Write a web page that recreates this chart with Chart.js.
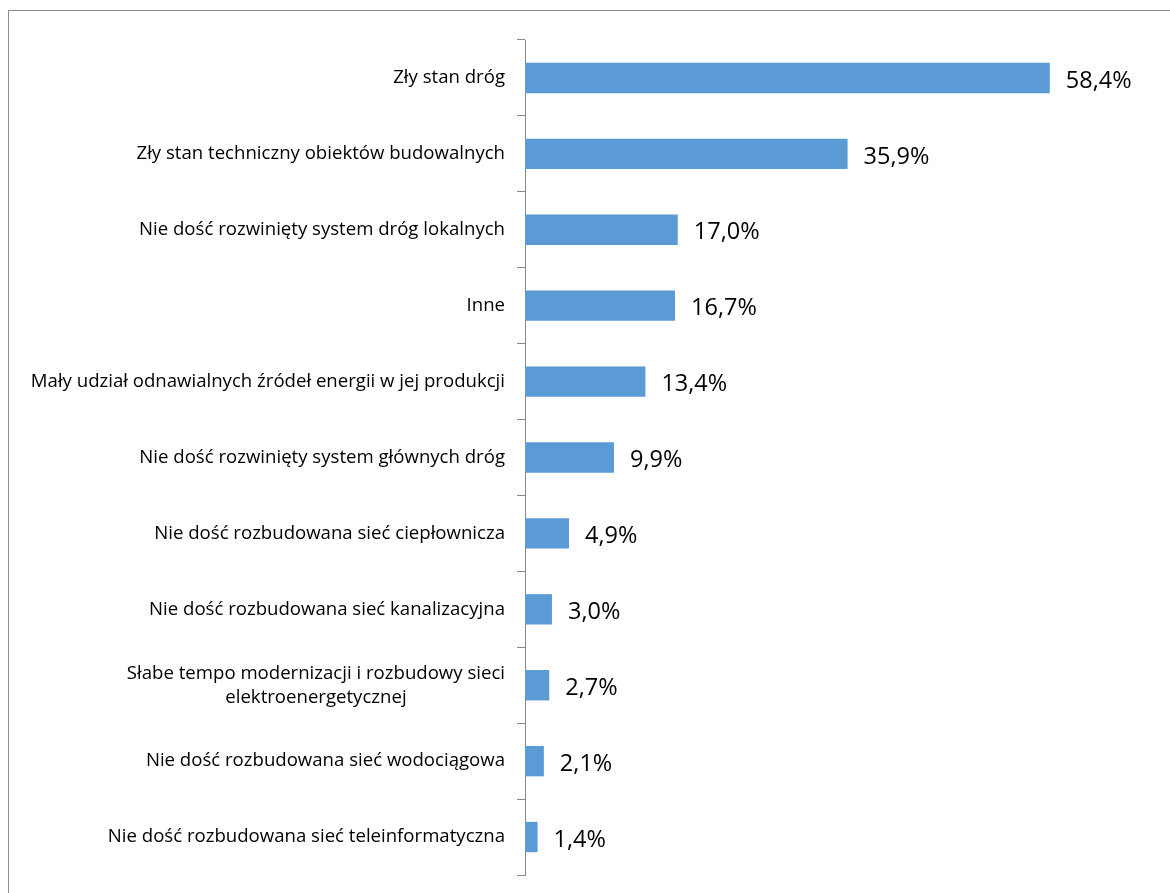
<!DOCTYPE html>
<html>
<head>
<meta charset="utf-8">
<script src="https://cdn.jsdelivr.net/npm/chart.js@4"></script>
<style>
  html, body { margin: 0; padding: 0; background: #fff; }
  #wrap { position: relative; width: 1170px; height: 893px; overflow: hidden; }
  #frame { position: absolute; left: 8px; top: 10px; width: 2000px; height: 2000px;
           border-top: 1px solid #8c8c8c; border-left: 1px solid #8c8c8c; }
  canvas { position: absolute; left: 0; top: 0; }
</style>
</head>
<body>
<div id="wrap">
  <div id="frame"></div>
  <canvas id="chart" width="1170" height="893"></canvas>
</div>
<script>
// categories and values (percent)
const categories = [
    "Zły stan dróg",
    "Zły stan techniczny obiektów budowalnych",
    "Nie dość rozwinięty system dróg lokalnych",
    "Inne",
    "Mały udział odnawialnych źródeł energii w jej produkcji",
    "Nie dość rozwinięty system głównych dróg",
    "Nie dość rozbudowana sieć ciepłownicza",
    "Nie dość rozbudowana sieć kanalizacyjna",
    ["Słabe tempo modernizacji i rozbudowy sieci", "elektroenergetycznej"],
    "Nie dość rozbudowana sieć wodociągowa",
    "Nie dość rozbudowana sieć teleinformatyczna"
];
const values = [58.4, 35.9, 17.0, 16.7, 13.4, 9.9, 4.9, 3.0, 2.7, 2.1, 1.4];

const labelFont = "18.6px 'Open Sans'";
const valueFont = "23.5px 'Open Sans'";

// category labels: right aligned, multi-line labels centred on their widest line
const categoryLabels = {
    id: "categoryLabels",
    afterDraw(chart) {
        const ctx = chart.ctx;
        const y = chart.scales.y;
        const right = chart.chartArea.left - 20;
        const lineH = 24;
        ctx.save();
        ctx.font = labelFont;
        ctx.fillStyle = "#000";
        ctx.textBaseline = "middle";
        categories.forEach((c, i) => {
            const lines = Array.isArray(c) ? c : [c];
            const cy = y.getPixelForValue(i);
            const widest = Math.max(...lines.map(l => ctx.measureText(l).width));
            const centre = right - widest / 2;
            ctx.textAlign = "center";
            lines.forEach((l, k) => {
                const ly = cy + (k - (lines.length - 1) / 2) * lineH;
                ctx.fillText(l, centre, ly);
            });
        });
        ctx.restore();
    }
};

// value labels to the right of each bar
const valueLabels = {
    id: "valueLabels",
    afterDatasetsDraw(chart) {
        const ctx = chart.ctx;
        const meta = chart.getDatasetMeta(0);
        ctx.save();
        ctx.font = valueFont;
        ctx.fillStyle = "#000";
        ctx.textAlign = "left";
        ctx.textBaseline = "middle";
        meta.data.forEach((bar, i) => {
            ctx.fillText(values[i].toFixed(1).replace(".", ",") + "%", bar.x + 16, bar.y + 3);
        });
        ctx.restore();
    }
};

const ctx = document.getElementById("chart").getContext("2d");
new Chart(ctx, {
    type: "bar",
    data: {
        labels: categories,
        datasets: [{
            data: values,
            backgroundColor: "#5b9bd5",
            borderWidth: 0,
            categoryPercentage: 1,
            barPercentage: 0.4
        }]
    },
    options: {
        indexAxis: "y",
        responsive: false,
        animation: false,
        layout: { padding: { top: 40, bottom: 18, left: 0, right: 16 } },
        plugins: { legend: { display: false }, tooltip: { enabled: false } },
        scales: {
            x: { display: false, min: 0, max: 70 },
            y: {
                offset: true,
                afterFit(scale) { scale.width = 525; },
                ticks: { display: false },
                grid: {
                    offset: true,
                    drawOnChartArea: false,
                    drawTicks: true,
                    tickLength: 8,
                    color: "#888888",
                    lineWidth: 1
                },
                border: { display: true, color: "#888888", width: 1 }
            }
        }
    },
    plugins: [categoryLabels, valueLabels]
});
</script>
</body>
</html>
